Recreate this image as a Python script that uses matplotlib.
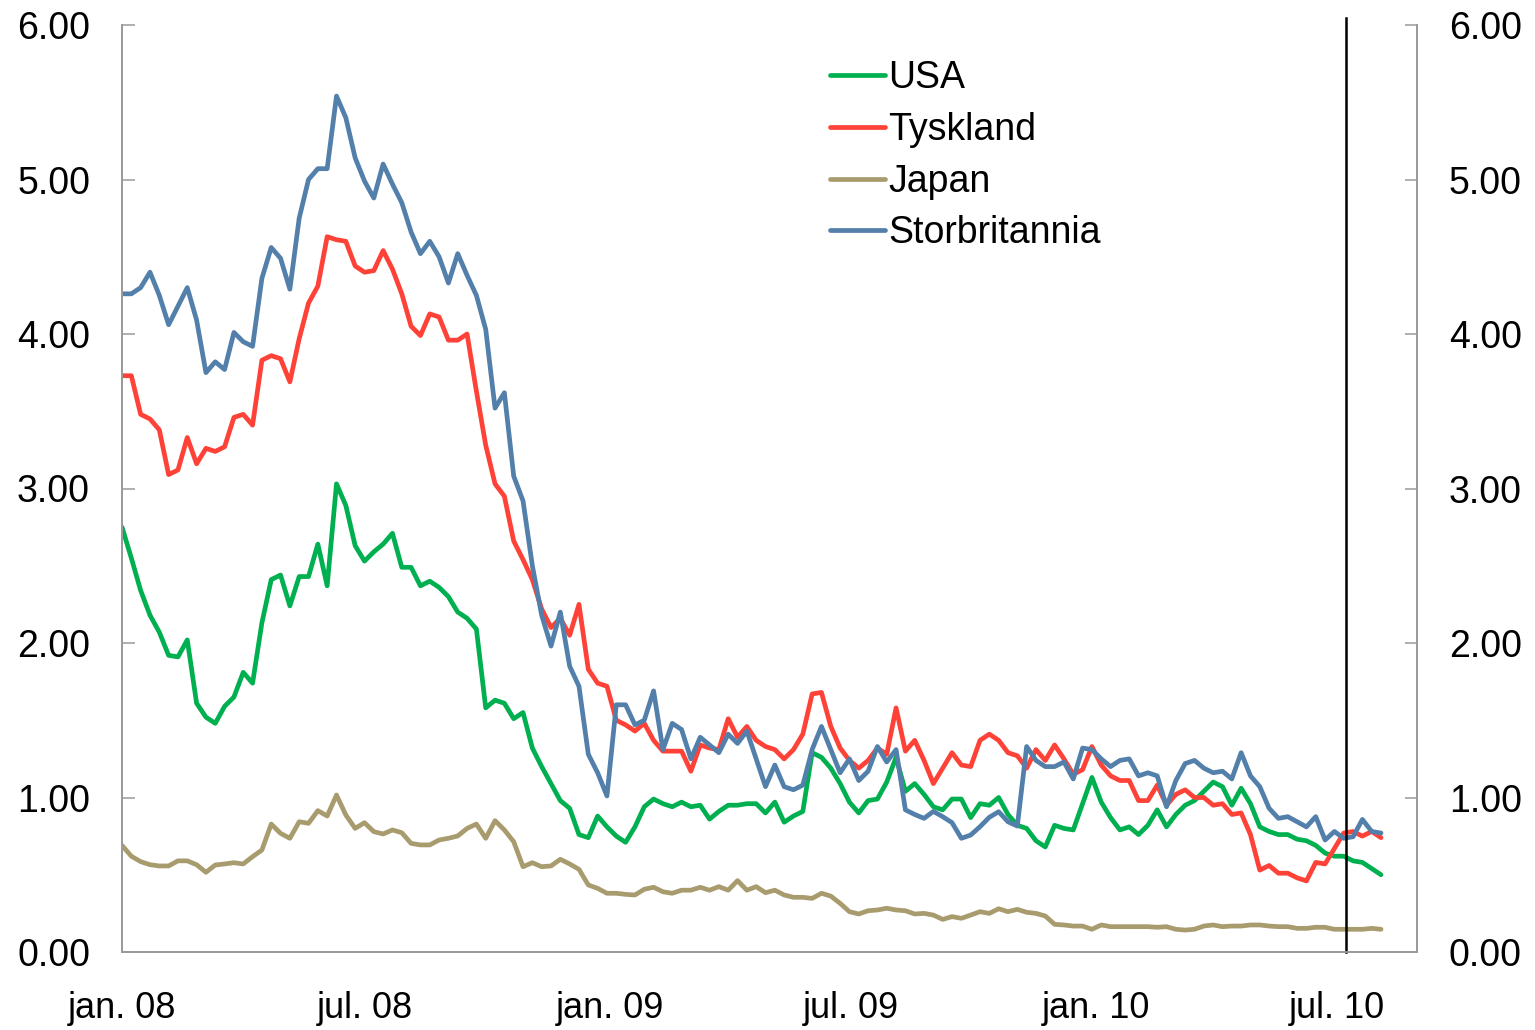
import numpy as np
import pandas as pd
import matplotlib
matplotlib.use("Agg")
import matplotlib.pyplot as plt

plt.rcParams['font.family'] = ['Liberation Sans', 'DejaVu Sans']

# weekly observations, Jan 2008 - Aug 2010
start_date = "2008-01-01"
n_weeks = 136

usa = [2.75, 2.55, 2.34, 2.18, 2.07, 1.92, 1.91, 2.02, 1.61, 1.52, 1.48, 1.59, 1.65, 1.81, 1.74, 2.13,
       2.41, 2.44, 2.24, 2.43, 2.43, 2.64, 2.37, 3.03, 2.89, 2.63, 2.53, 2.59, 2.64, 2.71, 2.49, 2.49,
       2.37, 2.40, 2.36, 2.30, 2.20, 2.16, 2.09, 1.58, 1.63, 1.61, 1.51, 1.55, 1.32, 1.20, 1.09, 0.98,
       0.93, 0.76, 0.74, 0.88, 0.81, 0.75, 0.71, 0.81, 0.94, 0.99, 0.96, 0.94, 0.97, 0.94, 0.95, 0.86,
       0.91, 0.95, 0.95, 0.96, 0.96, 0.90, 0.97, 0.84, 0.88, 0.91, 1.29, 1.26, 1.19, 1.09, 0.97, 0.90,
       0.98, 0.99, 1.10, 1.26, 1.04, 1.09, 1.02, 0.94, 0.92, 0.99, 0.99, 0.87, 0.96, 0.95, 1.00, 0.89,
       0.82, 0.80, 0.72, 0.68, 0.82, 0.80, 0.79, 0.96, 1.13, 0.97, 0.87, 0.79, 0.81, 0.76, 0.82, 0.92,
       0.81, 0.89, 0.95, 0.98, 1.04, 1.10, 1.07, 0.95, 1.06, 0.96, 0.81, 0.78, 0.76, 0.76, 0.73, 0.72,
       0.69, 0.64, 0.62, 0.62, 0.59, 0.58, 0.54, 0.50]

tyskland = [3.73, 3.73, 3.48, 3.45, 3.38, 3.09, 3.12, 3.33, 3.16, 3.26, 3.24, 3.27, 3.46, 3.48, 3.41, 3.83,
            3.86, 3.84, 3.69, 3.97, 4.20, 4.31, 4.63, 4.61, 4.60, 4.44, 4.40, 4.41, 4.54, 4.42, 4.26, 4.05,
            3.99, 4.13, 4.11, 3.96, 3.96, 4.00, 3.63, 3.28, 3.03, 2.95, 2.66, 2.54, 2.41, 2.22, 2.10, 2.16,
            2.05, 2.25, 1.83, 1.74, 1.72, 1.50, 1.47, 1.43, 1.48, 1.37, 1.30, 1.30, 1.30, 1.17, 1.34, 1.32,
            1.31, 1.51, 1.39, 1.46, 1.37, 1.33, 1.31, 1.25, 1.31, 1.41, 1.67, 1.68, 1.46, 1.32, 1.24, 1.19,
            1.24, 1.32, 1.28, 1.58, 1.30, 1.37, 1.24, 1.09, 1.19, 1.29, 1.21, 1.20, 1.37, 1.41, 1.37, 1.29,
            1.27, 1.19, 1.31, 1.24, 1.34, 1.25, 1.15, 1.18, 1.33, 1.21, 1.14, 1.11, 1.11, 0.98, 0.98, 1.08,
            0.95, 1.02, 1.05, 1.00, 1.00, 0.95, 0.96, 0.89, 0.90, 0.76, 0.53, 0.56, 0.51, 0.51, 0.48, 0.46,
            0.58, 0.57, 0.67, 0.77, 0.78, 0.75, 0.78, 0.74]

japan = [0.69, 0.62, 0.585, 0.565, 0.557, 0.557, 0.59, 0.59, 0.565, 0.516, 0.563, 0.57, 0.578, 0.57, 0.617, 0.66,
         0.828, 0.768, 0.736, 0.843, 0.833, 0.915, 0.88, 1.016, 0.887, 0.80, 0.837, 0.779, 0.764, 0.79, 0.772, 0.703,
         0.693, 0.693, 0.725, 0.736, 0.751, 0.80, 0.828, 0.736, 0.85, 0.79, 0.714, 0.552, 0.578, 0.552, 0.557, 0.60,
         0.57, 0.535, 0.434, 0.412, 0.38, 0.38, 0.373, 0.369, 0.406, 0.419, 0.39, 0.38, 0.40, 0.40, 0.419, 0.40,
         0.423, 0.40, 0.462, 0.40, 0.423, 0.384, 0.40, 0.369, 0.354, 0.354, 0.347, 0.38, 0.362, 0.315, 0.261, 0.246,
         0.267, 0.272, 0.283, 0.272, 0.267, 0.246, 0.25, 0.239, 0.211, 0.229, 0.218, 0.239, 0.261, 0.25, 0.28, 0.261,
         0.276, 0.257, 0.25, 0.233, 0.179, 0.175, 0.168, 0.168, 0.147, 0.175, 0.164, 0.164, 0.164, 0.164, 0.164, 0.16,
         0.164, 0.147, 0.142, 0.147, 0.168, 0.175, 0.164, 0.168, 0.168, 0.175, 0.175, 0.168, 0.164, 0.164, 0.153, 0.153,
         0.16, 0.16, 0.147, 0.147, 0.147, 0.147, 0.153, 0.147]

storbritannia = [4.26, 4.26, 4.30, 4.40, 4.25, 4.06, 4.18, 4.30, 4.09, 3.75, 3.82, 3.77, 4.01, 3.95, 3.92, 4.36,
                 4.56, 4.49, 4.29, 4.75, 5.00, 5.07, 5.07, 5.54, 5.40, 5.14, 4.99, 4.88, 5.10, 4.97, 4.85, 4.66,
                 4.52, 4.60, 4.50, 4.33, 4.52, 4.38, 4.25, 4.03, 3.52, 3.62, 3.08, 2.92, 2.50, 2.18, 1.98, 2.20,
                 1.85, 1.72, 1.28, 1.16, 1.01, 1.60, 1.60, 1.47, 1.50, 1.69, 1.31, 1.48, 1.44, 1.25, 1.39, 1.34,
                 1.29, 1.41, 1.35, 1.43, 1.25, 1.07, 1.21, 1.07, 1.05, 1.08, 1.31, 1.46, 1.31, 1.16, 1.25, 1.11,
                 1.17, 1.33, 1.23, 1.31, 0.92, 0.89, 0.865, 0.91, 0.876, 0.837, 0.736, 0.757, 0.811, 0.872, 0.908, 0.843,
                 0.815, 1.33, 1.24, 1.20, 1.20, 1.23, 1.12, 1.32, 1.31, 1.25, 1.20, 1.24, 1.25, 1.14, 1.16, 1.14,
                 0.94, 1.11, 1.22, 1.24, 1.19, 1.16, 1.17, 1.12, 1.29, 1.14, 1.07, 0.93, 0.865, 0.876, 0.843, 0.81,
                 0.876, 0.725, 0.78, 0.736, 0.746, 0.858, 0.78, 0.77]

series_names = ["USA", "Tyskland", "Japan", "Storbritannia"]
series_colors = ["#00B050", "#FF4238", "#A89B6E", "#537FAB"]

tick_dates = ["2008-01-01", "2008-07-01", "2009-01-01", "2009-07-01", "2010-01-01", "2010-07-01"]
tick_labels = ["jan. 08", "jul. 08", "jan. 09", "jul. 09", "jan. 10", "jul. 10"]
y_ticks = [0, 1, 2, 3, 4, 5, 6]
marker_date = "2010-07-08"
x_end = "2010-08-30"

dates = pd.date_range(start_date, periods=n_weeks, freq="7D")

fig = plt.figure(figsize=(15.35, 10.30), dpi=100)
ax = fig.add_axes([122 / 1535, 1 - 952 / 1030, (1417 - 122) / 1535, (952 - 25) / 1030])

for vals, name, col in zip([usa, tyskland, japan, storbritannia], series_names, series_colors):
    ax.plot(dates, vals, color=col, lw=3.4, label=name, solid_joinstyle="round", solid_capstyle="round")

ax.axvline(pd.Timestamp(marker_date), ymin=0, ymax=1.008, color="black", lw=1.8, clip_on=False, zorder=5)

ax.set_xlim(pd.Timestamp(start_date), pd.Timestamp(x_end))
ax.set_ylim(0, 6)
ax.set_xticks([pd.Timestamp(d) for d in tick_dates])
ax.set_xticklabels(tick_labels)
ax.set_yticks(y_ticks)
ax.set_yticklabels([f"{v:.2f}" for v in y_ticks])

spine_col = "#9A9A9A"
ax.spines["top"].set_visible(False)
for s in ["left", "bottom", "right"]:
    ax.spines[s].set_color(spine_col)
    ax.spines[s].set_linewidth(1.3)

ax.tick_params(axis="y", direction="in", length=9, width=1.1, color=spine_col, labelsize=27, pad=23)
ax.tick_params(axis="x", length=0, labelsize=26, pad=28)

ax2 = ax.twinx()
ax2.set_ylim(0, 6)
ax2.set_yticks(y_ticks)
ax2.set_yticklabels([f"{v:.2f}" for v in y_ticks])
ax2.spines["top"].set_visible(False)
for s in ["left", "bottom", "right"]:
    ax2.spines[s].set_color(spine_col)
    ax2.spines[s].set_linewidth(1.3)
ax2.tick_params(axis="y", direction="in", length=9, width=1.1, color=spine_col, labelsize=27, pad=23)

leg = ax.legend(loc="upper left", bbox_to_anchor=(0.547, 0.962), frameon=False, fontsize=27,
                handlelength=1.45, handletextpad=0.1, labelspacing=0.42, borderaxespad=0, borderpad=0)
for h in leg.get_lines():
    h.set_linewidth(3.4)

fig.savefig("out.png", dpi=100)
